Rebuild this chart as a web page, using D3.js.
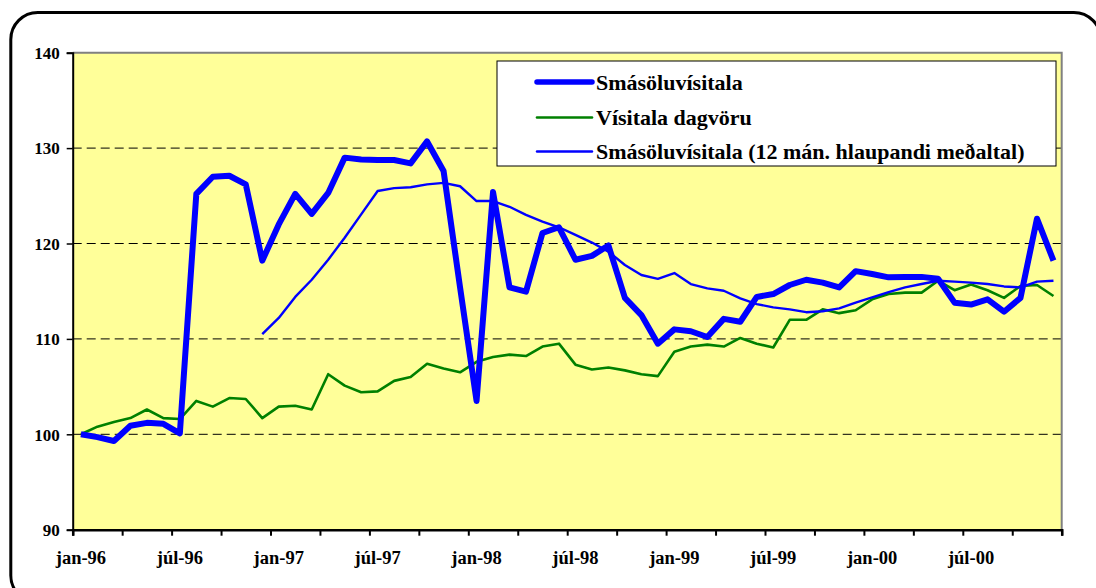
<!DOCTYPE html>
<html>
<head>
<meta charset="utf-8">
<script src="https://cdn.jsdelivr.net/npm/d3@7"></script>
<style>
  body { margin: 0; background: #fff; }
</style>
</head>
<body>
<div id="chart"></div>
<script>
// month names (icelandic) and years -> categories
var monthNames = ["jan", "feb", "mar", "apr", "maí", "jún", "júl", "ágú", "sep", "okt", "nóv", "des"];
var years = ["96", "97", "98", "99", "00"];
var categories = [];
years.forEach(function (y) { monthNames.forEach(function (m) { categories.push(m + "-" + y); }); });

var yTicks = [90, 100, 110, 120, 130, 140];

// Smásöluvísitala (thick)
var smasala = [100.0, 99.7, 99.3, 100.9, 101.2, 101.1, 100.1, 125.2, 127.0, 127.1, 126.2, 118.2,
  122.0, 125.2, 123.1, 125.3, 129.0, 128.8, 128.75, 128.75, 128.4, 130.7, 127.6, 115.4,
  103.5, 125.4, 115.4, 114.95, 121.1, 121.7, 118.3, 118.7, 119.8, 114.3, 112.5, 109.5,
  111.0, 110.8, 110.2, 112.1, 111.8, 114.4, 114.7, 115.65, 116.2, 115.9, 115.4, 117.1,
  116.8, 116.45, 116.5, 116.5, 116.3, 113.8, 113.6, 114.15, 112.85, 114.3, 122.6, 118.2];

// Vísitala dagvöru
var dagvara = [100.0, 100.8, 101.3, 101.7, 102.6, 101.7, 101.6, 103.5, 102.9, 103.8, 103.7, 101.7,
  102.9, 103.0, 102.6, 106.3, 105.1, 104.4, 104.5, 105.6, 106.0, 107.4, 106.9, 106.5,
  107.6, 108.1, 108.35, 108.2, 109.2, 109.5, 107.3, 106.8, 107.0, 106.7, 106.3, 106.1,
  108.65, 109.2, 109.4, 109.2, 110.1, 109.5, 109.1, 112.0, 112.0, 113.1, 112.7, 113.0,
  114.15, 114.7, 114.85, 114.85, 116.1, 115.1, 115.7, 115.1, 114.3, 115.55, 115.65, 114.5];

// 12 mán. hlaupandi meðaltal
var medaltal = [null, null, null, null, null, null, null, null, null, null, null, 110.5,
  112.2, 114.4, 116.2, 118.3, 120.6, 123.05, 125.5, 125.8, 125.9, 126.2, 126.35, 126.0,
  124.45, 124.45, 123.85, 123.0, 122.3, 121.7, 120.9, 120.1, 119.15, 117.75, 116.7, 116.3,
  116.9, 115.75, 115.3, 115.05, 114.25, 113.65, 113.3, 113.1, 112.8, 112.9, 113.2, 113.8,
  114.35, 114.9, 115.4, 115.75, 116.1, 116.0, 115.9, 115.75, 115.5, 115.4, 116.0, 116.1];

var seriesNames = ["Smásöluvísitala", "Vísitala dagvöru", "Smásöluvísitala (12 mán. hlaupandi meðaltal)"];

var FONT = "'Liberation Serif'";
var W = 1096, H = 588;
var plot = { left: 72.7, right: 1061.7, top: 52.7, bottom: 529.7 };

var svg = d3.select("#chart").append("svg")
  .attr("width", W)
  .attr("height", H);

// outer rounded frame
svg.append("rect")
  .attr("x", 10.8).attr("y", 12.5)
  .attr("width", 1090).attr("height", 590)
  .attr("rx", 27).attr("ry", 27)
  .style("fill", "#fff")
  .style("stroke", "#000")
  .style("stroke-width", 3);

var x = d3.scaleBand()
  .domain(categories)
  .range([plot.left, plot.right])
  .paddingInner(0).paddingOuter(0);
var xi = d3.scaleLinear().domain([0, categories.length]).range([plot.left, plot.right]);
var y = d3.scaleLinear().domain([90, 140]).range([plot.bottom, plot.top]);

function cx(i) { return x(categories[i]) + x.bandwidth() / 2; }

// plot area
svg.append("rect")
  .attr("x", plot.left).attr("y", plot.top)
  .attr("width", plot.right - plot.left).attr("height", plot.bottom - plot.top)
  .style("fill", "#FFFF99");

// gridlines
svg.append("g")
  .selectAll("line")
  .data(yTicks.filter(function (d) { return d > 90 && d < 140; }))
  .enter().append("line")
  .attr("x1", plot.left).attr("x2", plot.right)
  .attr("y1", function (d) { return y(d); })
  .attr("y2", function (d) { return y(d); })
  .style("stroke", "#000")
  .style("stroke-width", 1)
  .style("stroke-dasharray", "9,5");

// top and right border of plot area (gray)
svg.append("path")
  .attr("d", "M" + plot.left + "," + plot.top + "H" + plot.right + "V" + plot.bottom)
  .style("fill", "none")
  .style("stroke", "#808080")
  .style("stroke-width", 2);

// lines
var line = d3.line()
  .defined(function (d) { return d != null; })
  .x(function (d, i) { return cx(i); })
  .y(function (d) { return y(d); });

svg.append("path").datum(dagvara)
  .attr("d", line)
  .style("fill", "none").style("stroke", "#008000").style("stroke-width", 2.6)
  .style("stroke-linejoin", "round");

svg.append("path").datum(medaltal)
  .attr("d", line)
  .style("fill", "none").style("stroke", "#0000FF").style("stroke-width", 2.4)
  .style("stroke-linejoin", "round");

svg.append("path").datum(smasala)
  .attr("d", line)
  .style("fill", "none").style("stroke", "#0000FF").style("stroke-width", 6)
  .style("stroke-linejoin", "round");

// y axis
var yAxis = svg.append("g")
  .attr("transform", "translate(" + plot.left + ",0)")
  .call(d3.axisLeft(y).tickValues(yTicks).tickSize(6).tickPadding(7));
yAxis.attr("font-family", null);
yAxis.select(".domain").style("stroke", "#000").style("stroke-width", 2);
yAxis.selectAll("line").style("stroke", "#000").style("stroke-width", 1.5);
yAxis.selectAll("text")
  .attr("dy", "0.34em")
  .style("font-family", FONT).style("font-weight", "bold")
  .style("font-size", "17px").style("fill", "#000");

// x axis: tick marks every 3 months
var xTickAxis = svg.append("g")
  .attr("transform", "translate(0," + plot.bottom + ")")
  .call(d3.axisBottom(xi).tickValues(d3.range(0, categories.length + 1, 3)).tickSize(6).tickFormat(""));
xTickAxis.select(".domain").style("stroke", "#000").style("stroke-width", 2.5);
xTickAxis.selectAll("line").style("stroke", "#000").style("stroke-width", 2);

// x labels every 6 months, centred on category
var xLabAxis = svg.append("g")
  .attr("transform", "translate(0," + plot.bottom + ")")
  .call(d3.axisBottom(x).tickValues(categories.filter(function (d, i) { return i % 6 === 0; })).tickSize(0).tickPadding(21));
xLabAxis.attr("font-family", null);
xLabAxis.select(".domain").remove();
xLabAxis.selectAll("text")
  .style("font-family", FONT).style("font-weight", "bold")
  .style("font-size", "18.5px").style("fill", "#000");

// legend
var legend = svg.append("g").attr("transform", "translate(497,61)");
legend.append("rect")
  .attr("width", 559).attr("height", 105)
  .style("fill", "#fff").style("stroke", "#000").style("stroke-width", 1);
var legendStyles = [
  { color: "#0000FF", width: 5.5 },
  { color: "#008000", width: 2.6 },
  { color: "#0000FF", width: 2.4 }
];
var rowY = [21, 56.5, 90.5];
seriesNames.forEach(function (name, i) {
  legend.append("line")
    .attr("x1", 40).attr("x2", 95)
    .attr("y1", rowY[i]).attr("y2", rowY[i])
    .style("stroke", legendStyles[i].color)
    .style("stroke-width", legendStyles[i].width)
    .style("stroke-linecap", "round");
  legend.append("text")
    .attr("x", 99).attr("y", rowY[i])
    .attr("dy", "0.35em")
    .style("font-family", FONT).style("font-weight", "bold")
    .style("font-size", "22px")
    .text(name);
});
</script>
</body>
</html>
